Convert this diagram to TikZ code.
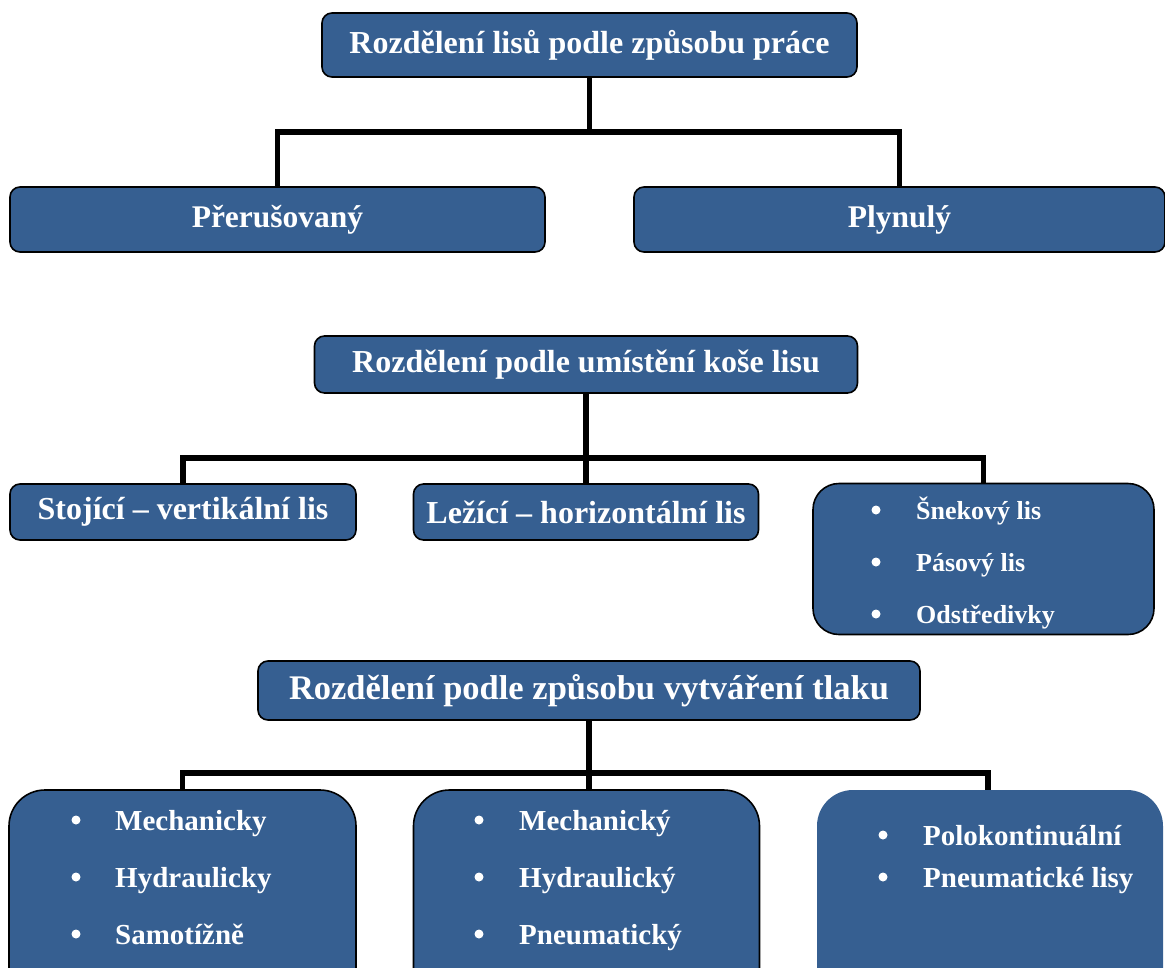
\documentclass[tikz,border=0pt]{standalone}
\usepackage{fontspec}
\setmainfont{Liberation Serif}
\usepackage{tikz}

\definecolor{lisblue}{RGB}{54,95,145}

\begin{document}
\begin{tikzpicture}[x=1pt,y=-1pt]
\tikzstyle{box} = [rectangle,rounded corners=10pt,fill=lisblue,draw=black,line width=1.6pt,
  text=white,font=\bfseries,inner sep=0pt];
\tikzstyle{listbox} = [box,rounded corners=26pt];
\tikzstyle{bigbox} = [box,rounded corners=36pt];
\tikzstyle{item} = [text=white,font=\bfseries\fontsize{29}{34}\selectfont,anchor=base west,inner sep=0pt];
\tikzstyle{dot} = [circle,fill=white,minimum size=9pt,inner sep=0pt];
\tikzstyle{conn} = [line width=5.5pt,black];

\useasboundingbox (0,0) rectangle (1165,967);
\clip (0,0) rectangle (1165,967);

% prace
\node [box,minimum width=535pt,minimum height=64pt,font=\bfseries\fontsize{32}{36}\selectfont] (prace) at (589.5,45) {Rozdělení lisů podle způsobu práce};
\node [box,minimum width=535pt,minimum height=65pt,font=\bfseries\fontsize{31.5}{36}\selectfont] (prer) at (277.5,219.5) {Přerušovaný};
\node [box,minimum width=531pt,minimum height=65pt,font=\bfseries\fontsize{31.5}{36}\selectfont] (plyn) at (899.5,219.5) {Plynulý};
\coordinate (j1) at (590,132);
\draw [conn] (prace.south) |- (prer.north |- j1) -- (prer.north);
\draw [conn] (prace.south) |- (plyn.north |- j1) -- (plyn.north);

% kos
\node [box,minimum width=543pt,minimum height=57pt,font=\bfseries\fontsize{32}{36}\selectfont] (kos) at (586,364.5) {Rozdělení podle umístění koše lisu};
\node [box,minimum width=346pt,minimum height=56pt,font=\bfseries\fontsize{32}{36}\selectfont] (stoj) at (183,512) {Stojící – vertikální lis};
\node [box,minimum width=345pt,minimum height=56pt,font=\bfseries\fontsize{32}{36}\selectfont] (lez) at (586,512) {Ležící – horizontální lis};
\node [listbox,minimum width=341pt,minimum height=151pt] (ost) at (983.5,559) {};
\node [dot] (o1b) at (876,510) {};
\node [item,font=\bfseries\fontsize{26}{30}\selectfont] (o1) at (916,519) {Šnekový lis};
\node [dot] (o2b) at (876,562) {};
\node [item,font=\bfseries\fontsize{26}{30}\selectfont] (o2) at (916,571) {Pásový lis};
\node [dot] (o3b) at (876,614) {};
\node [item,font=\bfseries\fontsize{26}{30}\selectfont] (o3) at (916,623) {Odstředivky};
\coordinate (j2) at (586,458);
\draw [conn] (kos.south) |- (stoj.north |- j2) -- (stoj.north);
\draw [conn] (kos.south) -- (lez.north);
\draw [conn] (kos.south) |- (ost.north |- j2) -- (ost.north);

% tlak
\node [box,minimum width=662pt,minimum height=59pt,font=\bfseries\fontsize{34.5}{40}\selectfont] (tlak) at (589,690.5) {Rozdělení podle způsobu vytváření tlaku};
\node [bigbox,minimum width=347pt,minimum height=220pt] (mech) at (182.5,900) {};
\node [bigbox,minimum width=346pt,minimum height=220pt] (mechy) at (586.5,900) {};
\node [bigbox,draw=none,minimum width=346pt,minimum height=220pt] (polo) at (990,900) {};
\node [dot] (m1b) at (76,820) {};
\node [item] (m1) at (115,830) {Mechanicky};
\node [dot] (m2b) at (76,877) {};
\node [item] (m2) at (115,887) {Hydraulicky};
\node [dot] (m3b) at (76,934) {};
\node [item] (m3) at (115,944) {Samotížně};
\node [dot] (n1b) at (479,820) {};
\node [item] (n1) at (519,830) {Mechanický};
\node [dot] (n2b) at (479,877) {};
\node [item] (n2) at (519,887) {Hydraulický};
\node [dot] (n3b) at (479,934) {};
\node [item] (n3) at (519,944) {Pneumatický};
\node [dot] (p1b) at (883,835) {};
\node [item] (p1) at (923,845) {Polokontinuální};
\node [dot] (p2b) at (883,877) {};
\node [item] (p2) at (923,887) {Pneumatické lisy};
\coordinate (j3) at (588,773);
\coordinate (pk) at (988,790);
\draw [conn] (tlak.south) |- (mech.north |- j3) -- (mech.north);
\draw [conn] (tlak.south) -- (tlak.south |- mechy.north);
\draw [conn] (tlak.south) |- (pk |- j3) -- (pk);
\end{tikzpicture}
\end{document}
